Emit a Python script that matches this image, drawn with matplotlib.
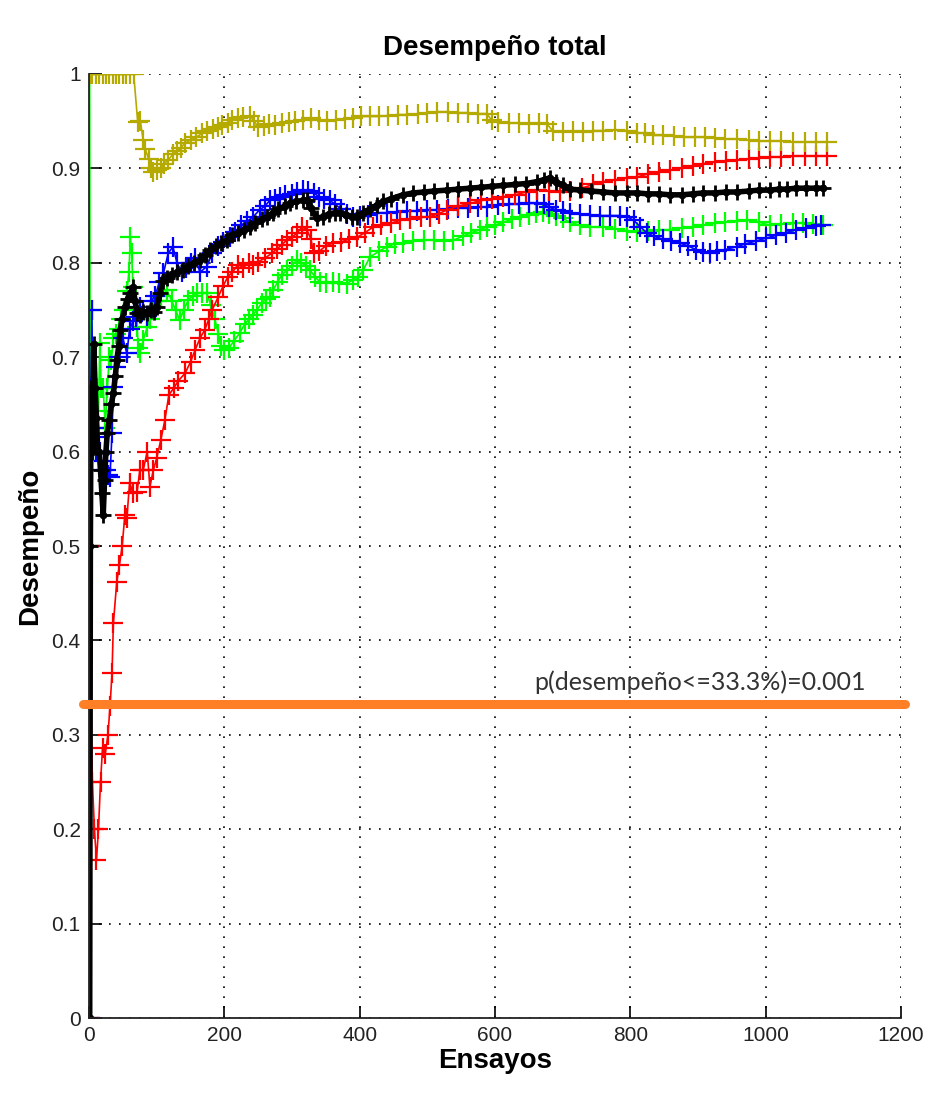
import matplotlib
matplotlib.use('Agg')

import matplotlib.pyplot as plt

# Cumulative performance per trial, one array pair per condition
green_x = [1, 2, 3, 4, 6, 8, 10, 12, 14, 16, 18, 21, 24, 27, 30, 33, 36, 40, 44, 48, 52, 56, 59, 61, 63, 65, 68, 71, 73, 75,
           80, 86, 90, 95, 100, 106, 115, 122, 128, 134, 140, 147, 154, 160, 167, 174, 180, 186, 191, 195, 200, 207, 214,
           223, 230, 236, 242, 248, 255, 262, 267, 272, 279, 285, 292, 300, 307, 314, 320, 327, 334, 341, 350, 360, 370,
           381, 390, 398, 405, 415, 428, 440, 452, 464, 479, 495, 510, 524, 538, 552, 565, 578, 588, 600, 612, 625, 637,
           650, 660, 671, 680, 690, 700, 711, 725, 740, 760, 777, 795, 810, 826, 842, 859, 876, 892, 908, 925, 940, 957,
           972, 990, 1006, 1022, 1040, 1055, 1070, 1085]
green_y = [1.0, 0.5, 0.667, 0.75, 0.667, 0.625, 0.6, 0.667, 0.643, 0.715, 0.667, 0.667, 0.625, 0.667, 0.7, 0.697, 0.72,
           0.725, 0.73, 0.74, 0.75, 0.77, 0.79, 0.827, 0.81, 0.774, 0.75, 0.732, 0.71, 0.704, 0.718, 0.732, 0.74, 0.753,
           0.76, 0.765, 0.771, 0.76, 0.75, 0.739, 0.75, 0.761, 0.765, 0.768, 0.768, 0.768, 0.755, 0.74, 0.725, 0.712,
           0.708, 0.71, 0.717, 0.726, 0.735, 0.74, 0.745, 0.75, 0.757, 0.762, 0.764, 0.771, 0.78, 0.787, 0.792, 0.797,
           0.803, 0.8, 0.797, 0.792, 0.785, 0.78, 0.779, 0.78, 0.779, 0.778, 0.782, 0.785, 0.792, 0.806, 0.812, 0.817,
           0.82, 0.821, 0.823, 0.824, 0.824, 0.823, 0.824, 0.828, 0.832, 0.835, 0.838, 0.84, 0.843, 0.846, 0.849, 0.851,
           0.853, 0.854, 0.852, 0.85, 0.847, 0.843, 0.84, 0.838, 0.838, 0.836, 0.834, 0.833, 0.834, 0.835, 0.835, 0.837,
           0.838, 0.84, 0.842, 0.843, 0.844, 0.845, 0.843, 0.84, 0.841, 0.842, 0.842, 0.841, 0.84]

blue_x = [1, 2, 3, 4, 6, 8, 10, 13, 16, 19, 22, 25, 28, 31, 34, 36, 40, 45, 50, 56, 60, 65, 70, 75, 80, 86, 92, 98, 104,
          110, 117, 124, 130, 137, 144, 150, 157, 164, 174, 182, 190, 198, 208, 216, 225, 234, 243, 252, 260, 267, 275,
          282, 290, 300, 308, 316, 324, 332, 340, 348, 356, 364, 372, 381, 390, 400, 412, 425, 440, 455, 470, 485, 500,
          514, 530, 545, 560, 575, 588, 605, 620, 635, 650, 662, 672, 680, 690, 700, 711, 725, 740, 755, 770, 785, 795,
          805, 815, 824, 835, 848, 860, 873, 885, 897, 908, 918, 928, 940, 957, 970, 985, 1000, 1015, 1030, 1045, 1060,
          1075, 1082]
blue_y = [0.0, 0.5, 0.667, 0.75, 0.667, 0.625, 0.6, 0.615, 0.6, 0.58, 0.59, 0.58, 0.575, 0.573, 0.62, 0.668, 0.69, 0.7,
          0.72, 0.704, 0.73, 0.738, 0.743, 0.753, 0.75, 0.744, 0.76, 0.765, 0.78, 0.789, 0.81, 0.817, 0.8, 0.79, 0.795,
          0.8, 0.805, 0.79, 0.796, 0.81, 0.818, 0.822, 0.827, 0.833, 0.84, 0.844, 0.849, 0.856, 0.86, 0.866, 0.868,
          0.87, 0.872, 0.873, 0.875, 0.877, 0.876, 0.874, 0.87, 0.868, 0.866, 0.862, 0.857, 0.852, 0.849, 0.85, 0.851,
          0.853, 0.853, 0.854, 0.855, 0.855, 0.856, 0.856, 0.857, 0.858, 0.858, 0.859, 0.859, 0.861, 0.862, 0.862,
          0.863, 0.863, 0.862, 0.859, 0.856, 0.855, 0.853, 0.852, 0.851, 0.85, 0.85, 0.85, 0.849, 0.845, 0.838, 0.832,
          0.828, 0.825, 0.823, 0.821, 0.818, 0.814, 0.811, 0.81, 0.812, 0.814, 0.817, 0.82, 0.823, 0.826, 0.829, 0.832,
          0.835, 0.837, 0.839, 0.84]

red_x = [1, 2, 3, 5, 8, 11, 14, 17, 20, 24, 28, 31, 34, 36, 41, 45, 49, 53, 56, 60, 65, 71, 75, 80, 86, 90, 95, 100, 106,
         112, 118, 125, 132, 142, 150, 157, 164, 171, 177, 182, 191, 198, 205, 212, 220, 228, 236, 243, 250, 260, 270,
         278, 285, 292, 300, 308, 315, 322, 328, 332, 340, 350, 361, 372, 384, 396, 408, 420, 432, 446, 460, 474, 490,
         504, 517, 529, 545, 563, 580, 596, 612, 630, 646, 662, 680, 696, 711, 728, 745, 760, 778, 795, 810, 826, 842,
         859, 876, 892, 908, 925, 942, 957, 975, 990, 1006, 1022, 1040, 1058, 1075, 1090]
red_y = [0.0, 0.5, 0.333, 0.25, 0.2, 0.167, 0.2, 0.25, 0.286, 0.28, 0.3, 0.33, 0.365, 0.418, 0.462, 0.48, 0.5, 0.533,
         0.53, 0.567, 0.556, 0.557, 0.58, 0.58, 0.6, 0.563, 0.58, 0.593, 0.612, 0.633, 0.66, 0.667, 0.675, 0.683, 0.695,
         0.708, 0.72, 0.729, 0.74, 0.75, 0.764, 0.775, 0.785, 0.79, 0.798, 0.795, 0.8, 0.798, 0.801, 0.805, 0.81, 0.815,
         0.819, 0.824, 0.827, 0.832, 0.838, 0.835, 0.825, 0.81, 0.812, 0.818, 0.821, 0.822, 0.825, 0.827, 0.832, 0.838,
         0.84, 0.842, 0.845, 0.846, 0.848, 0.849, 0.852, 0.856, 0.86, 0.863, 0.866, 0.868, 0.87, 0.872, 0.875, 0.877,
         0.876, 0.875, 0.876, 0.879, 0.883, 0.886, 0.888, 0.89, 0.891, 0.894, 0.896, 0.898, 0.9, 0.903, 0.905, 0.907,
         0.908, 0.909, 0.91, 0.911, 0.912, 0.912, 0.913, 0.913, 0.913, 0.913]

yellow_x = [1, 5, 10, 15, 20, 25, 30, 35, 40, 45, 50, 55, 60, 66, 72, 76, 80, 83, 88, 92, 95, 100, 106, 111, 117, 124,
            130, 136, 142, 150, 158, 167, 175, 183, 190, 197, 205, 212, 220, 228, 238, 244, 250, 258, 266, 275, 285,
            295, 305, 316, 328, 340, 352, 365, 378, 390, 402, 415, 428, 442, 456, 470, 486, 500, 514, 530, 545, 560,
            575, 588, 595, 605, 620, 635, 650, 665, 677, 685, 700, 715, 730, 745, 760, 778, 795, 810, 822, 833, 848,
            865, 880, 895, 910, 925, 940, 957, 975, 990, 1006, 1022, 1040, 1058, 1075, 1090]
yellow_y = [1.0, 1.0, 1.0, 1.0, 1.0, 1.0, 1.0, 1.0, 1.0, 1.0, 1.0, 1.0, 1.0, 1.0, 0.949, 0.95, 0.93, 0.921, 0.91, 0.9,
            0.896, 0.898, 0.9, 0.905, 0.909, 0.915, 0.918, 0.922, 0.927, 0.93, 0.933, 0.937, 0.94, 0.942, 0.944, 0.946,
            0.948, 0.951, 0.953, 0.954, 0.955, 0.95, 0.944, 0.945, 0.947, 0.946, 0.948, 0.949, 0.95, 0.951, 0.953,
            0.951, 0.95, 0.951, 0.952, 0.953, 0.955, 0.955, 0.955, 0.956, 0.957, 0.957, 0.958, 0.959, 0.96, 0.96,
            0.959, 0.959, 0.958, 0.958, 0.951, 0.949, 0.948, 0.948, 0.947, 0.948, 0.947, 0.94, 0.939, 0.94, 0.939,
            0.94, 0.94, 0.941, 0.94, 0.938, 0.937, 0.935, 0.935, 0.934, 0.933, 0.933, 0.933, 0.932, 0.931, 0.931,
            0.93, 0.929, 0.929, 0.929, 0.928, 0.928, 0.928, 0.928]

black_x = [1, 2, 3, 5, 7, 9, 11, 13, 15, 17, 19, 21, 23, 25, 27, 30, 33, 36, 39, 41, 44, 46, 49, 53, 57, 61, 65, 68, 71,
           75, 80, 86, 92, 96, 100, 105, 109, 115, 122, 130, 139, 147, 155, 164, 172, 179, 187, 195, 204, 212, 220, 229,
           238, 246, 255, 263, 272, 280, 289, 297, 306, 316, 322, 328, 337, 346, 355, 364, 371, 380, 388, 396, 405, 415,
           425, 435, 447, 464, 479, 495, 510, 529, 545, 563, 580, 596, 612, 630, 646, 662, 672, 681, 690, 700, 711, 726,
           742, 760, 777, 795, 810, 826, 842, 859, 876, 892, 908, 925, 941, 957, 975, 990, 1006, 1020, 1031, 1045, 1060,
           1075, 1085]
black_y = [0.0, 0.5, 0.667, 0.6, 0.714, 0.667, 0.636, 0.6, 0.6, 0.58, 0.556, 0.533, 0.57, 0.6, 0.62, 0.633, 0.65,
           0.662, 0.68, 0.697, 0.712, 0.729, 0.74, 0.753, 0.762, 0.768, 0.774, 0.76, 0.747, 0.745, 0.748, 0.747, 0.75,
           0.748, 0.753, 0.768, 0.781, 0.784, 0.787, 0.79, 0.792, 0.797, 0.8, 0.803, 0.808, 0.814, 0.818, 0.821, 0.824,
           0.829, 0.832, 0.835, 0.838, 0.842, 0.846, 0.849, 0.853, 0.857, 0.86, 0.863, 0.865, 0.866, 0.866, 0.858,
           0.847, 0.849, 0.852, 0.853, 0.853, 0.851, 0.849, 0.849, 0.853, 0.857, 0.861, 0.865, 0.868, 0.872, 0.874,
           0.875, 0.876, 0.877, 0.878, 0.879, 0.88, 0.881, 0.882, 0.883, 0.884, 0.886, 0.888, 0.89, 0.886, 0.882,
           0.878, 0.877, 0.876, 0.875, 0.874, 0.874, 0.874, 0.873, 0.873, 0.872, 0.872, 0.873, 0.874, 0.874, 0.875,
           0.875, 0.876, 0.877, 0.877, 0.878, 0.878, 0.879, 0.879, 0.879, 0.879]

chance_level = 0.333
chance_text = 'p(desempeño<=33.3%)=0.001'

plt.rcParams['font.family'] = ['Liberation Sans', 'DejaVu Sans']

fig = plt.figure(figsize=(9.51, 10.93), dpi=100)
ax = fig.add_axes([0.0936, 0.0686, 0.8538, 0.8637])

style = dict(marker='+', markersize=15, markeredgewidth=1.6, linewidth=1.2)
ax.plot(green_x, green_y, color='#00ff00', **style)
ax.plot(blue_x, blue_y, color='#0000ff', **style)
ax.plot(red_x, red_y, color='#ff0000', **style)
ax.plot(yellow_x, yellow_y, color='#b5ab00', **style)
ax.plot(black_x, black_y, color='black', marker='+', markersize=12, markeredgewidth=2.0, linewidth=4.0)
ax.plot(black_x, black_y, color='black', marker='.', markersize=9, linewidth=0)

# chance line, slightly wider than the axes like a drawn annotation
ax.plot([-9, 1206], [chance_level, chance_level], color='#ff7f27', linewidth=6.5,
        solid_capstyle='round', clip_on=False, zorder=5)
ax.text(903, 0.347, chance_text, ha='center', va='baseline', fontsize=18,
        family=['Lato', 'DejaVu Sans'], color='#333333')

ax.set_xlim(0, 1200)
ax.set_ylim(0, 1)
ax.set_xticks(range(0, 1201, 200))
ax.set_yticks([0, 0.1, 0.2, 0.3, 0.4, 0.5, 0.6, 0.7, 0.8, 0.9, 1])
ax.set_yticklabels(['0', '0.1', '0.2', '0.3', '0.4', '0.5', '0.6', '0.7', '0.8', '0.9', '1'])
ax.grid(True, color='black', linestyle=(0, (1, 5)), linewidth=1.2)
ax.tick_params(direction='in', length=9, width=1.2, labelsize=15, labelcolor='#222222', pad=6)
for side in ['top', 'right']:
    ax.spines[side].set_visible(False)
for side in ['left', 'bottom']:
    ax.spines[side].set_linewidth(1.3)
    ax.spines[side].set_color('#222222')

ax.set_title('Desempeño total', fontsize=20, fontweight='bold', pad=14)
ax.set_xlabel('Ensayos', fontsize=20, fontweight='bold', labelpad=2)
ax.set_ylabel('Desempeño', fontsize=20, fontweight='bold', labelpad=6)

plt.savefig('out.png', dpi=100)
